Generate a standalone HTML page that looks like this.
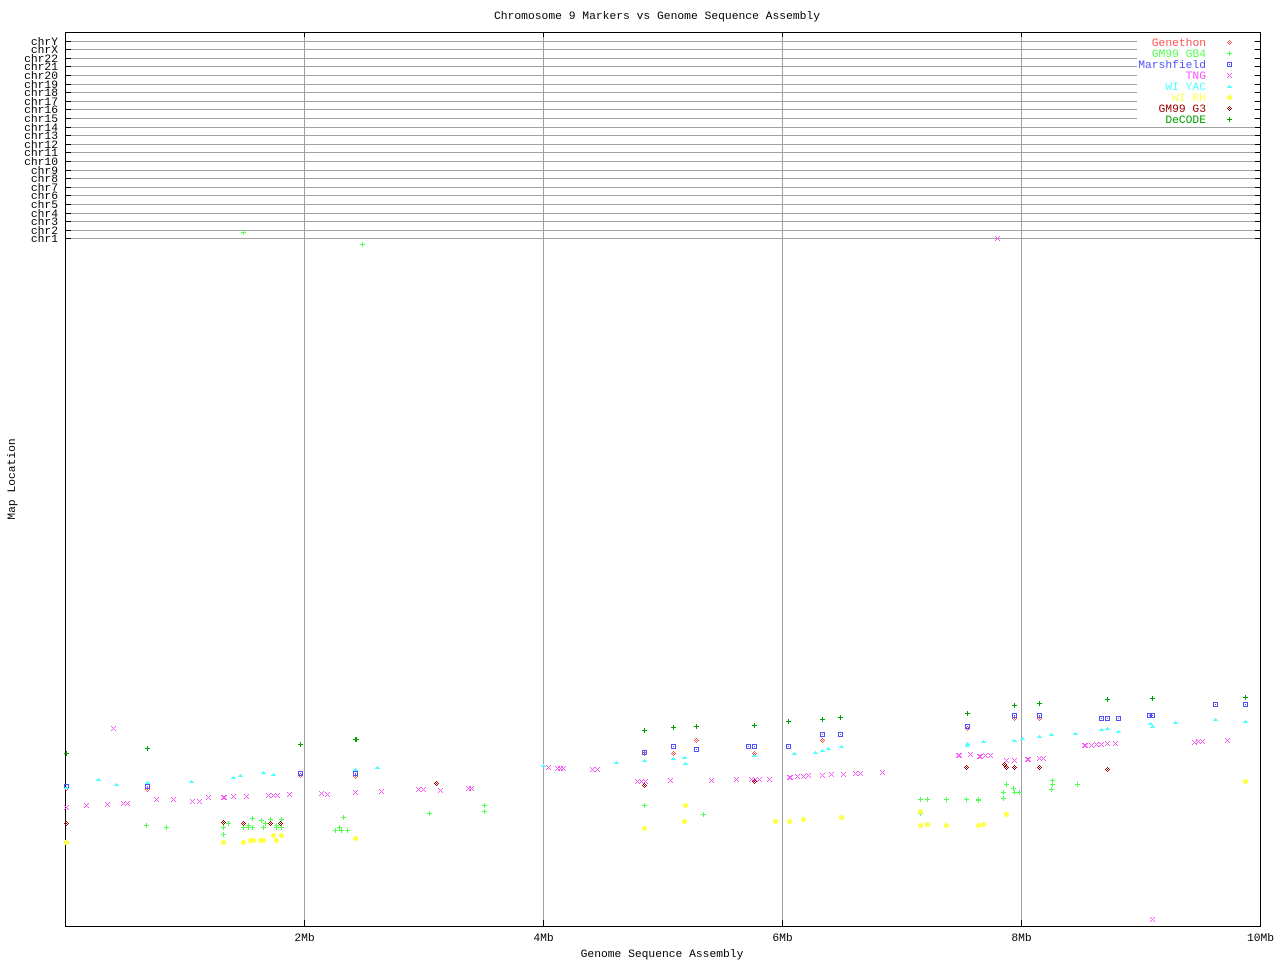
<!DOCTYPE html>
<html><head><meta charset="utf-8"><style>
html,body{margin:0;padding:0;background:#fff;}
svg{display:block;}
text{font-family:"Liberation Mono","DejaVu Sans Mono",monospace;font-size:11.3px;fill:#000;}
</style></head><body>
<svg width="1280" height="960" viewBox="0 0 1280 960" xmlns="http://www.w3.org/2000/svg" shape-rendering="crispEdges">
<defs>
<path id="dia" d="M0,-2h1v1h-1z M-1,-1h1v1h-1z M1,-1h1v1h-1z M-2,0h1v1h-1z M0,0h1v1h-1z M2,0h1v1h-1z M-1,1h1v1h-1z M1,1h1v1h-1z M0,2h1v1h-1z"/>
<path id="plus" d="M-2,0h5v1h-5z M0,-2h1v5h-1z"/>
<path id="sq" d="M-2,-2h5v1h-5z M-2,2h5v1h-5z M-2,-1h1v3h-1z M2,-1h1v3h-1z M0,0h1v1h-1z"/>
<path id="xx" d="M-2,-2h1v1h-1z M2,-2h1v1h-1z M-1,-1h1v1h-1z M1,-1h1v1h-1z M0,0h1v1h-1z M-1,1h1v1h-1z M1,1h1v1h-1z M-2,2h1v1h-1z M2,2h1v1h-1z"/>
<path id="tri" d="M0,-1h1v1h-1z M-1,0h3v1h-3z M-2,1h5v1h-5z"/>
<path id="ast" d="M-1,-2h3v5h-3z M-2,-1h5v3h-5z"/>
</defs>

<!-- title -->
<text x="494" y="19" textLength="326" lengthAdjust="spacingAndGlyphs">Chromosome 9 Markers vs Genome Sequence Assembly</text>

<!-- gridlines -->
<g fill="#a0a0a0">
<rect x="304" y="32" width="1" height="894"/>
<rect x="543" y="32" width="1" height="894"/>
<rect x="782" y="32" width="1" height="894"/>
<rect x="1021" y="32" width="1" height="894"/>
<rect x="65" y="41" width="1195" height="1"/>
<rect x="65" y="49" width="1195" height="1"/>
<rect x="65" y="58" width="1195" height="1"/>
<rect x="65" y="66" width="1195" height="1"/>
<rect x="65" y="75" width="1195" height="1"/>
<rect x="65" y="84" width="1195" height="1"/>
<rect x="65" y="92" width="1195" height="1"/>
<rect x="65" y="101" width="1195" height="1"/>
<rect x="65" y="109" width="1195" height="1"/>
<rect x="65" y="118" width="1195" height="1"/>
<rect x="65" y="127" width="1195" height="1"/>
<rect x="65" y="135" width="1195" height="1"/>
<rect x="65" y="144" width="1195" height="1"/>
<rect x="65" y="152" width="1195" height="1"/>
<rect x="65" y="161" width="1195" height="1"/>
<rect x="65" y="170" width="1195" height="1"/>
<rect x="65" y="178" width="1195" height="1"/>
<rect x="65" y="187" width="1195" height="1"/>
<rect x="65" y="195" width="1195" height="1"/>
<rect x="65" y="204" width="1195" height="1"/>
<rect x="65" y="213" width="1195" height="1"/>
<rect x="65" y="221" width="1195" height="1"/>
<rect x="65" y="230" width="1195" height="1"/>
<rect x="65" y="238" width="1195" height="1"/>
</g>

<!-- legend background -->
<rect x="1137" y="36" width="117" height="88" fill="#fff"/>

<!-- axes -->
<g fill="#000">
<rect x="65" y="32" width="1196" height="1"/>
<rect x="65" y="926" width="1196" height="1"/>
<rect x="65" y="32" width="1" height="895"/>
<rect x="1260" y="32" width="1" height="895"/>
<!-- x ticks top/bottom -->
<rect x="304" y="32" width="1" height="5"/><rect x="304" y="920" width="1" height="6"/>
<rect x="543" y="32" width="1" height="5"/><rect x="543" y="920" width="1" height="6"/>
<rect x="782" y="32" width="1" height="5"/><rect x="782" y="920" width="1" height="6"/>
<rect x="1021" y="32" width="1" height="5"/><rect x="1021" y="920" width="1" height="6"/>
</g>
<!-- y ticks -->
<g fill="#000">
<rect x="65" y="41" width="6" height="1"/><rect x="1255" y="41" width="5" height="1"/>
<rect x="65" y="49" width="6" height="1"/><rect x="1255" y="49" width="5" height="1"/>
<rect x="65" y="58" width="6" height="1"/><rect x="1255" y="58" width="5" height="1"/>
<rect x="65" y="66" width="6" height="1"/><rect x="1255" y="66" width="5" height="1"/>
<rect x="65" y="75" width="6" height="1"/><rect x="1255" y="75" width="5" height="1"/>
<rect x="65" y="84" width="6" height="1"/><rect x="1255" y="84" width="5" height="1"/>
<rect x="65" y="92" width="6" height="1"/><rect x="1255" y="92" width="5" height="1"/>
<rect x="65" y="101" width="6" height="1"/><rect x="1255" y="101" width="5" height="1"/>
<rect x="65" y="109" width="6" height="1"/><rect x="1255" y="109" width="5" height="1"/>
<rect x="65" y="118" width="6" height="1"/><rect x="1255" y="118" width="5" height="1"/>
<rect x="65" y="127" width="6" height="1"/><rect x="1255" y="127" width="5" height="1"/>
<rect x="65" y="135" width="6" height="1"/><rect x="1255" y="135" width="5" height="1"/>
<rect x="65" y="144" width="6" height="1"/><rect x="1255" y="144" width="5" height="1"/>
<rect x="65" y="152" width="6" height="1"/><rect x="1255" y="152" width="5" height="1"/>
<rect x="65" y="161" width="6" height="1"/><rect x="1255" y="161" width="5" height="1"/>
<rect x="65" y="170" width="6" height="1"/><rect x="1255" y="170" width="5" height="1"/>
<rect x="65" y="178" width="6" height="1"/><rect x="1255" y="178" width="5" height="1"/>
<rect x="65" y="187" width="6" height="1"/><rect x="1255" y="187" width="5" height="1"/>
<rect x="65" y="195" width="6" height="1"/><rect x="1255" y="195" width="5" height="1"/>
<rect x="65" y="204" width="6" height="1"/><rect x="1255" y="204" width="5" height="1"/>
<rect x="65" y="213" width="6" height="1"/><rect x="1255" y="213" width="5" height="1"/>
<rect x="65" y="221" width="6" height="1"/><rect x="1255" y="221" width="5" height="1"/>
<rect x="65" y="230" width="6" height="1"/><rect x="1255" y="230" width="5" height="1"/>
<rect x="65" y="238" width="6" height="1"/><rect x="1255" y="238" width="5" height="1"/>
</g>

<!-- y labels -->
<g text-anchor="end">
<text x="58" y="45">chrY</text>
<text x="58" y="53">chrX</text>
<text x="58" y="62">chr22</text>
<text x="58" y="70">chr21</text>
<text x="58" y="79">chr20</text>
<text x="58" y="88">chr19</text>
<text x="58" y="96">chr18</text>
<text x="58" y="105">chr17</text>
<text x="58" y="113">chr16</text>
<text x="58" y="122">chr15</text>
<text x="58" y="131">chr14</text>
<text x="58" y="139">chr13</text>
<text x="58" y="148">chr12</text>
<text x="58" y="156">chr11</text>
<text x="58" y="165">chr10</text>
<text x="58" y="174">chr9</text>
<text x="58" y="182">chr8</text>
<text x="58" y="191">chr7</text>
<text x="58" y="199">chr6</text>
<text x="58" y="208">chr5</text>
<text x="58" y="217">chr4</text>
<text x="58" y="225">chr3</text>
<text x="58" y="234">chr2</text>
<text x="58" y="242">chr1</text>
</g>

<!-- x labels -->
<g text-anchor="middle">
<text x="304.5" y="941">2Mb</text>
<text x="543.5" y="941">4Mb</text>
<text x="782.5" y="941">6Mb</text>
<text x="1021.5" y="941">8Mb</text>
<text x="1260.5" y="941">10Mb</text>
<text x="662" y="957">Genome Sequence Assembly</text>
</g>
<text transform="translate(15,479) rotate(-90)" text-anchor="middle">Map Location</text>

<!-- legend -->
<g text-anchor="end">
<text x="1206" y="46" style="fill:#ff5050">Genethon</text>
<text x="1206" y="57" style="fill:#50ff50">GM99 GB4</text>
<text x="1206" y="68" style="fill:#5050ff">Marshfield</text>
<text x="1206" y="79" style="fill:#ff50ff">TNG</text>
<text x="1206" y="90" style="fill:#50ffff">WI YAC</text>
<text x="1206" y="101" style="fill:#ffff50">WI RH</text>
<text x="1206" y="112" style="fill:#a00000">GM99 G3</text>
<text x="1206" y="123" style="fill:#00a000">DeCODE</text>
</g>
<use href="#dia" x="1229" y="42" fill="#ff5050"/>
<use href="#plus" x="1229" y="53" fill="#50ff50"/>
<use href="#sq" x="1229" y="64" fill="#5050ff"/>
<use href="#xx" x="1229" y="75" fill="#ff50ff"/>
<use href="#tri" x="1229" y="86" fill="#50ffff"/>
<use href="#ast" x="1229" y="97" fill="#ffff50"/>
<use href="#dia" x="1229" y="108" fill="#a00000"/>
<use href="#plus" x="1229" y="119" fill="#00a000"/>

<!-- Genethon -->
<g fill="#ff5050">
<use href="#dia" x="66" y="788"/><use href="#dia" x="147" y="789"/><use href="#dia" x="300" y="775"/><use href="#dia" x="355" y="776"/>
<use href="#dia" x="644" y="753"/><use href="#dia" x="673" y="753"/><use href="#dia" x="696" y="740"/><use href="#dia" x="754" y="753"/>
<use href="#dia" x="822" y="740"/><use href="#dia" x="967" y="728"/><use href="#dia" x="1014" y="718"/><use href="#dia" x="1039" y="718"/>
</g>

<!-- GM99 GB4 -->
<g fill="#50ff50">
<use href="#plus" x="243" y="232"/><use href="#plus" x="362" y="244"/>
<use href="#plus" x="146" y="825"/><use href="#plus" x="166" y="827"/><use href="#plus" x="223" y="827"/><use href="#plus" x="228" y="823"/>
<use href="#plus" x="223" y="834"/><use href="#plus" x="243" y="827"/><use href="#plus" x="248" y="825"/><use href="#plus" x="248" y="827"/>
<use href="#plus" x="252" y="827"/><use href="#plus" x="252" y="818"/><use href="#plus" x="261" y="820"/><use href="#plus" x="265" y="823"/>
<use href="#plus" x="263" y="827"/><use href="#plus" x="270" y="819"/><use href="#plus" x="276" y="827"/><use href="#plus" x="276" y="825"/>
<use href="#plus" x="281" y="819"/><use href="#plus" x="281" y="827"/><use href="#plus" x="343" y="817"/><use href="#plus" x="335" y="830"/>
<use href="#plus" x="339" y="827"/><use href="#plus" x="341" y="830"/><use href="#plus" x="347" y="830"/>
<use href="#plus" x="429" y="813"/><use href="#plus" x="484" y="805"/><use href="#plus" x="484" y="811"/><use href="#plus" x="644" y="805"/><use href="#plus" x="703" y="814"/>
<use href="#plus" x="920" y="799"/><use href="#plus" x="927" y="799"/><use href="#plus" x="946" y="799"/><use href="#plus" x="966" y="799"/>
<use href="#plus" x="978" y="799"/><use href="#plus" x="978" y="800"/><use href="#plus" x="1003" y="798"/><use href="#plus" x="1003" y="792"/>
<use href="#plus" x="1006" y="784"/><use href="#plus" x="1013" y="788"/><use href="#plus" x="1014" y="792"/><use href="#plus" x="1019" y="792"/>
<use href="#plus" x="1051" y="789"/><use href="#plus" x="1052" y="784"/><use href="#plus" x="1052" y="780"/><use href="#plus" x="1077" y="784"/>
<use href="#plus" x="920" y="813"/>
</g>

<!-- Marshfield -->
<g fill="#5050ff">
<use href="#sq" x="66" y="786"/><use href="#sq" x="147" y="786"/><use href="#sq" x="300" y="773"/><use href="#sq" x="355" y="773"/>
<use href="#sq" x="644" y="752"/><use href="#sq" x="673" y="746"/><use href="#sq" x="696" y="749"/><use href="#sq" x="748" y="746"/>
<use href="#sq" x="754" y="746"/><use href="#sq" x="788" y="746"/><use href="#sq" x="822" y="734"/><use href="#sq" x="840" y="734"/>
<use href="#sq" x="967" y="726"/><use href="#sq" x="1014" y="715"/><use href="#sq" x="1039" y="715"/><use href="#sq" x="1101" y="718"/>
<use href="#sq" x="1107" y="718"/><use href="#sq" x="1118" y="718"/><use href="#sq" x="1149" y="715"/><use href="#sq" x="1152" y="715"/>
<use href="#sq" x="1215" y="704"/><use href="#sq" x="1245" y="704"/>
</g>

<!-- TNG -->
<g fill="#ff50ff">
<use href="#xx" x="113" y="728"/><use href="#xx" x="66" y="807"/><use href="#xx" x="86" y="805"/><use href="#xx" x="107" y="804"/>
<use href="#xx" x="123" y="803"/><use href="#xx" x="127" y="803"/><use href="#xx" x="156" y="799"/><use href="#xx" x="173" y="799"/>
<use href="#xx" x="192" y="801"/><use href="#xx" x="199" y="801"/><use href="#xx" x="208" y="797"/><use href="#xx" x="223" y="797"/><use href="#xx" x="224" y="797"/>
<use href="#xx" x="233" y="796"/><use href="#xx" x="246" y="796"/><use href="#xx" x="268" y="795"/><use href="#xx" x="273" y="795"/>
<use href="#xx" x="277" y="795"/><use href="#xx" x="289" y="794"/><use href="#xx" x="321" y="793"/><use href="#xx" x="327" y="794"/>
<use href="#xx" x="355" y="792"/><use href="#xx" x="381" y="791"/>
<use href="#xx" x="418" y="789"/><use href="#xx" x="423" y="789"/><use href="#xx" x="440" y="790"/><use href="#xx" x="468" y="788"/>
<use href="#xx" x="471" y="788"/><use href="#xx" x="548" y="767"/><use href="#xx" x="557" y="768"/><use href="#xx" x="560" y="768"/>
<use href="#xx" x="563" y="768"/><use href="#xx" x="592" y="769"/><use href="#xx" x="597" y="769"/><use href="#xx" x="637" y="781"/>
<use href="#xx" x="641" y="781"/><use href="#xx" x="645" y="781"/><use href="#xx" x="670" y="780"/><use href="#xx" x="711" y="780"/>
<use href="#xx" x="736" y="779"/><use href="#xx" x="751" y="779"/><use href="#xx" x="755" y="779"/><use href="#xx" x="759" y="779"/>
<use href="#xx" x="769" y="779"/><use href="#xx" x="789" y="777"/><use href="#xx" x="790" y="777"/><use href="#xx" x="797" y="776"/><use href="#xx" x="803" y="776"/>
<use href="#xx" x="808" y="775"/><use href="#xx" x="822" y="775"/><use href="#xx" x="831" y="774"/><use href="#xx" x="843" y="774"/>
<use href="#xx" x="855" y="773"/><use href="#xx" x="860" y="773"/>
<use href="#xx" x="882" y="772"/><use href="#xx" x="958" y="755"/><use href="#xx" x="959" y="755"/><use href="#xx" x="970" y="754"/><use href="#xx" x="979" y="756"/>
<use href="#xx" x="980" y="756"/><use href="#xx" x="985" y="755"/><use href="#xx" x="990" y="755"/><use href="#xx" x="1006" y="760"/><use href="#xx" x="1014" y="760"/>
<use href="#xx" x="1027" y="759"/><use href="#xx" x="1028" y="759"/><use href="#xx" x="1039" y="758"/><use href="#xx" x="1043" y="758"/><use href="#xx" x="1084" y="745"/>
<use href="#xx" x="1085" y="745"/><use href="#xx" x="1091" y="745"/><use href="#xx" x="1096" y="744"/><use href="#xx" x="1101" y="744"/><use href="#xx" x="1107" y="743"/>
<use href="#xx" x="1115" y="743"/><use href="#xx" x="1194" y="742"/><use href="#xx" x="1198" y="741"/><use href="#xx" x="1202" y="741"/>
<use href="#xx" x="1227" y="740"/><use href="#xx" x="1152" y="919"/><use href="#xx" x="997" y="238"/>
</g>

<!-- WI YAC -->
<g fill="#50ffff">
<use href="#tri" x="66" y="787"/><use href="#tri" x="98" y="779"/><use href="#tri" x="116" y="784"/><use href="#tri" x="147" y="782"/>
<use href="#tri" x="191" y="781"/><use href="#tri" x="233" y="777"/><use href="#tri" x="240" y="775"/><use href="#tri" x="263" y="772"/>
<use href="#tri" x="273" y="774"/><use href="#tri" x="355" y="769"/><use href="#tri" x="377" y="767"/>
<use href="#tri" x="543" y="765"/><use href="#tri" x="616" y="762"/><use href="#tri" x="644" y="760"/><use href="#tri" x="673" y="758"/>
<use href="#tri" x="684" y="757"/><use href="#tri" x="685" y="763"/><use href="#tri" x="754" y="755"/><use href="#tri" x="794" y="753"/>
<use href="#tri" x="815" y="752"/><use href="#tri" x="822" y="750"/><use href="#tri" x="828" y="748"/><use href="#tri" x="841" y="746"/>
<use href="#tri" x="967" y="743"/><use href="#tri" x="967" y="745"/><use href="#tri" x="983" y="741"/><use href="#tri" x="1014" y="740"/>
<use href="#tri" x="1022" y="738"/><use href="#tri" x="1039" y="736"/><use href="#tri" x="1051" y="734"/><use href="#tri" x="1075" y="733"/>
<use href="#tri" x="1101" y="729"/><use href="#tri" x="1107" y="728"/><use href="#tri" x="1118" y="731"/><use href="#tri" x="1150" y="723"/>
<use href="#tri" x="1152" y="726"/><use href="#tri" x="1175" y="722"/><use href="#tri" x="1215" y="719"/><use href="#tri" x="1245" y="721"/>
</g>

<!-- WI RH -->
<g fill="#ffff50">
<use href="#ast" x="66" y="842"/><use href="#ast" x="223" y="842"/><use href="#ast" x="243" y="842"/><use href="#ast" x="250" y="840"/>
<use href="#ast" x="253" y="840"/><use href="#ast" x="260" y="840"/><use href="#ast" x="263" y="840"/><use href="#ast" x="273" y="835"/>
<use href="#ast" x="276" y="840"/><use href="#ast" x="281" y="835"/><use href="#ast" x="355" y="838"/>
<use href="#ast" x="644" y="828"/><use href="#ast" x="685" y="805"/><use href="#ast" x="684" y="821"/><use href="#ast" x="775" y="821"/>
<use href="#ast" x="789" y="821"/><use href="#ast" x="803" y="819"/><use href="#ast" x="841" y="817"/>
<use href="#ast" x="920" y="811"/><use href="#ast" x="920" y="825"/><use href="#ast" x="927" y="824"/><use href="#ast" x="946" y="825"/>
<use href="#ast" x="978" y="825"/><use href="#ast" x="983" y="824"/><use href="#ast" x="1006" y="814"/><use href="#ast" x="1245" y="781"/>
</g>

<!-- GM99 G3 -->
<g fill="#a00000">
<use href="#dia" x="66" y="823"/><use href="#dia" x="223" y="822"/><use href="#dia" x="243" y="823"/><use href="#dia" x="270" y="823"/>
<use href="#dia" x="280" y="823"/><use href="#dia" x="436" y="783"/><use href="#dia" x="644" y="785"/><use href="#dia" x="754" y="781"/>
<use href="#dia" x="966" y="767"/><use href="#dia" x="1004" y="764"/><use href="#dia" x="1006" y="767"/><use href="#dia" x="1014" y="767"/>
<use href="#dia" x="1039" y="767"/><use href="#dia" x="1107" y="769"/>
</g>

<!-- DeCODE -->
<g fill="#00a000">
<use href="#plus" x="66" y="753"/><use href="#plus" x="147" y="748"/><use href="#plus" x="300" y="744"/><use href="#plus" x="355" y="739"/><use href="#plus" x="356" y="739"/>
<use href="#plus" x="644" y="730"/><use href="#plus" x="673" y="727"/><use href="#plus" x="696" y="726"/><use href="#plus" x="754" y="725"/>
<use href="#plus" x="788" y="721"/><use href="#plus" x="822" y="719"/><use href="#plus" x="840" y="717"/><use href="#plus" x="967" y="713"/>
<use href="#plus" x="1014" y="705"/><use href="#plus" x="1039" y="703"/><use href="#plus" x="1107" y="699"/><use href="#plus" x="1152" y="698"/>
<use href="#plus" x="1245" y="697"/>
</g>
</svg>
</body></html>
